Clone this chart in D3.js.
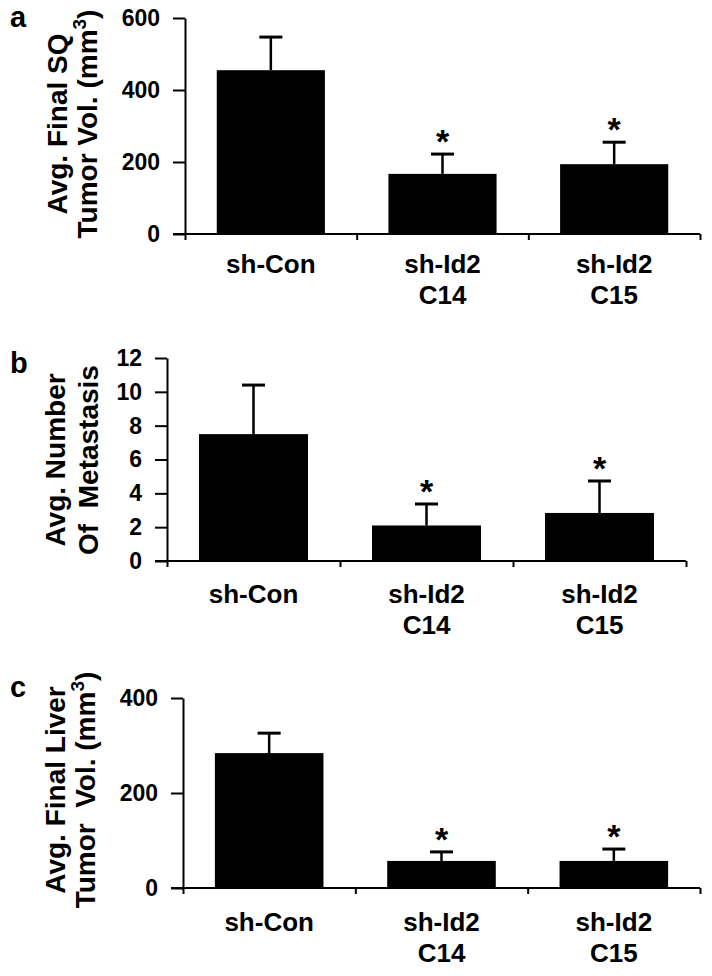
<!DOCTYPE html>
<html>
<head>
<meta charset="utf-8">
<script src="https://cdn.jsdelivr.net/npm/d3@7"></script>
<style>
  html, body { margin: 0; padding: 0; background: #fff; }
  svg { display: block; font-family: "Liberation Sans", Arial, sans-serif; font-weight: bold; }
  text { white-space: pre; }
</style>
</head>
<body>
<svg id="chart" width="712" height="976"></svg>
<script>
// ---- data ----
const categories = ["sh-Con", "sh-Id2 C14", "sh-Id2 C15"];
const categoryLines = [["sh-Con"], ["sh-Id2", "C14"], ["sh-Id2", "C15"]];

const sqMeans = [455, 167, 194];
const sqErrors = [92, 55, 61];
const sqTicks = [0, 200, 400, 600];

const metMeans = [7.5, 2.1, 2.84];
const metErrors = [2.9, 1.27, 1.89];
const metTicks = [0, 2, 4, 6, 8, 10, 12];

const liverMeans = [284, 57, 57];
const liverErrors = [42, 19, 25];
const liverTicks = [0, 200, 400];

const significant = [false, true, true];

// ---- layout ----
const panels = [
  { letter: "a", means: sqMeans, errors: sqErrors, ticks: sqTicks, max: 600,
    ax: 185, x1: 700, y0: 234, yTop: 18, letterY: 27, labelY: 273, titleY: 124,
    title: [["Avg. Final SQ"], ["Tumor Vol. (mm", "3", ")"]], titleX: [67, 97] },
  { letter: "b", means: metMeans, errors: metErrors, ticks: metTicks, max: 12,
    ax: 167, x1: 686, y0: 561, yTop: 358, letterY: 373, labelY: 603, titleY: 460,
    title: [["Avg. Number"], ["Of  Metastasis"]], titleX: [65, 98] },
  { letter: "c", means: liverMeans, errors: liverErrors, ticks: liverTicks, max: 400,
    ax: 183, x1: 700, y0: 888, yTop: 698, letterY: 697, labelY: 931, titleY: 790,
    title: [["Avg. Final Liver"], ["Tumor  Vol. (mm", "3", ")"]], titleX: [65, 95] }
];

const svg = d3.select("#chart");

panels.forEach(p => {
  const g = svg.append("g");
  const y = d3.scaleLinear().domain([0, p.max]).range([p.y0, p.yTop]);
  const x = d3.scaleBand().domain(categories).range([p.ax, p.x1])
    .paddingInner(0.37).paddingOuter(0.185);
  const xb = d3.scaleLinear().domain([0, categories.length]).range([p.ax, p.x1]);

  // bars
  g.selectAll("rect.bar").data(p.means).join("rect")
    .attr("class", "bar")
    .attr("x", (d, i) => x(categories[i]))
    .attr("width", x.bandwidth())
    .attr("y", d => y(d))
    .attr("height", d => p.y0 - y(d))
    .attr("fill", "#000");

  // error bars (upper only)
  const capW = 23;
  p.means.forEach((m, i) => {
    const cx = x(categories[i]) + x.bandwidth() / 2;
    const top = y(m + p.errors[i]);
    g.append("line").attr("x1", cx).attr("x2", cx).attr("y1", y(m)).attr("y2", top)
      .attr("stroke", "#000").attr("stroke-width", 2.5);
    g.append("line").attr("x1", cx - capW / 2).attr("x2", cx + capW / 2).attr("y1", top).attr("y2", top)
      .attr("stroke", "#000").attr("stroke-width", 3);
    if (significant[i]) {
      g.append("text").attr("x", cx).attr("y", top - 1)
        .attr("text-anchor", "middle").attr("font-size", 34).text("*");
    }
  });

  // x axis (boundary ticks)
  const xAxis = g.append("g").attr("transform", `translate(0,${p.y0})`)
    .call(d3.axisBottom(xb).tickValues(d3.range(categories.length + 1)).tickSize(6).tickSizeOuter(0).tickFormat(""));
  xAxis.select(".domain").attr("stroke-width", 2).attr("d", `M${p.ax - 12},0H${p.x1}`);
  xAxis.selectAll(".tick line").attr("stroke-width", 2);

  // y axis
  const yAxis = g.append("g").attr("transform", `translate(${p.ax},0)`)
    .call(d3.axisLeft(y).tickValues(p.ticks).tickSize(12).tickPadding(13).tickSizeOuter(0).tickFormat(d3.format("d")));
  yAxis.select(".domain").attr("stroke-width", 2);
  yAxis.selectAll(".tick line").attr("stroke-width", 2);
  yAxis.selectAll(".tick text").attr("font-size", 23).attr("font-family", null).attr("fill", "#000");

  // category labels
  categoryLines.forEach((lines, i) => {
    const cx = x(categories[i]) + x.bandwidth() / 2;
    lines.forEach((ln, j) => {
      g.append("text").attr("x", cx).attr("y", p.labelY + j * 31)
        .attr("text-anchor", "middle").attr("font-size", 26).text(ln);
    });
  });

  // y title (two lines, rotated)
  p.title.forEach((parts, j) => {
    const t = g.append("text")
      .attr("transform", `translate(${p.titleX[j]},${p.titleY}) rotate(-90)`)
      .attr("text-anchor", "middle").attr("font-size", 28);
    t.append("tspan").text(parts[0]);
    if (parts.length > 1) {
      t.append("tspan").attr("font-size", 19).attr("dy", -11).text(parts[1]);
      t.append("tspan").attr("dy", 11).text(parts[2]);
    }
  });

  // panel letter
  g.append("text").attr("x", 10).attr("y", p.letterY).attr("font-size", 29).text(p.letter);
});
</script>
</body>
</html>
